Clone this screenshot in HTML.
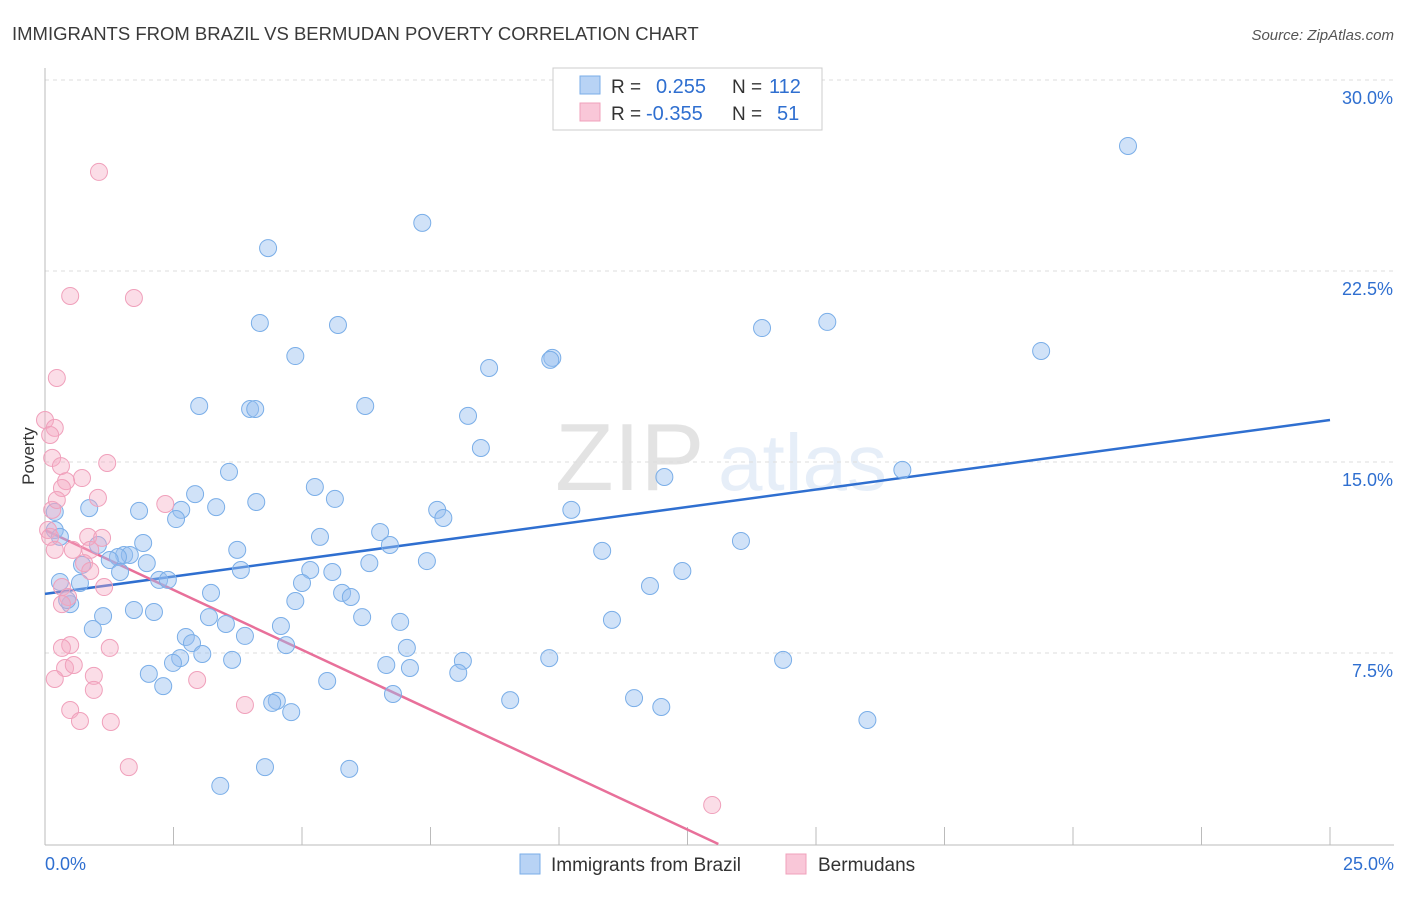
<!DOCTYPE html>
<html><head><meta charset="utf-8"><style>
body{margin:0;background:#fff;font-family:"Liberation Sans",sans-serif;}
svg text{font-family:"Liberation Sans",sans-serif;}
</style></head><body>
<svg id="chart" width="1406" height="892" xmlns="http://www.w3.org/2000/svg">
<text x="12" y="40" font-size="18.5" fill="#3a3a3a">IMMIGRANTS FROM BRAZIL VS BERMUDAN POVERTY CORRELATION CHART</text>
<text x="1394" y="40" font-size="15" fill="#555" font-style="italic" text-anchor="end">Source: ZipAtlas.com</text>
<g opacity="0.13">
<text x="555" y="490" font-size="96" font-family="Liberation Serif" fill="#333">ZIP</text>
<text x="718" y="490" font-size="80" fill="#4a7fd0">atlas</text>
</g>
<g id="grid"></g><g id="axes"></g><g id="lines"></g><g id="pts"></g>
<text x="34" y="456" font-size="17" fill="#333" text-anchor="middle" transform="rotate(-90 34 456)">Poverty</text>
<g>
<rect x="553" y="68" width="269" height="62" fill="#fff" stroke="#ccc"/>
<rect x="580" y="76" width="20" height="18" fill="#b8d3f5" stroke="#7aaee8"/>
<rect x="580" y="103" width="20" height="18" fill="#f9c7d8" stroke="#f0a0bb"/>
<text x="611" y="93" font-size="19" fill="#333">R = </text><text x="656" y="93" font-size="20" fill="#2f6fd0">0.255</text>
<text x="732" y="93" font-size="19" fill="#333">N = </text><text x="769" y="93" font-size="20" fill="#2f6fd0">112</text>
<text x="611" y="120" font-size="19" fill="#333">R = </text><text x="646" y="120" font-size="20" fill="#2f6fd0">-0.355</text>
<text x="732" y="120" font-size="19" fill="#333">N = </text><text x="777" y="120" font-size="20" fill="#2f6fd0">51</text>
</g>
<g>
<rect x="520" y="854" width="20" height="20" fill="#b8d3f5" stroke="#7aaee8"/>
<text x="551" y="871" font-size="19" fill="#333">Immigrants from Brazil</text>
<rect x="786" y="854" width="20" height="20" fill="#f9c7d8" stroke="#f0a0bb"/>
<text x="818" y="871" font-size="19" fill="#333">Bermudans</text>
</g>
</svg>
<script>
const xTicks=[0,2.5,5,7.5,10,12.5,15,17.5,20,22.5,25];
const yTicks=[7.5,15,22.5,30];
const yTickLabels=["7.5%","15.0%","22.5%","30.0%"];
const xEndLabels=["0.0%","25.0%"];
const blueX=[21.07,7.34,4.34,4.18,5.70,15.22,13.95,19.38,4.87,9.87,9.83,8.64,3.00,6.23,3.99,4.09,8.23,8.48,3.58,16.68,12.05,5.25,2.92,5.64,4.11,3.33,0.86,1.83,2.65,7.63,10.24,2.55,7.75,6.52,5.35,0.19,0.19,0.29,1.03,1.91,3.74,10.84,13.54,6.71,1.54,1.65,1.42,1.26,1.98,6.31,7.43,0.72,5.59,5.16,3.81,12.40,1.46,0.29,0.68,2.22,2.39,5.00,11.77,5.78,5.95,3.23,4.87,0.49,0.43,1.73,2.12,1.13,3.19,6.17,6.91,11.03,3.52,4.59,0.93,2.74,3.89,2.86,4.69,7.04,3.06,2.63,2.49,3.64,8.13,9.81,14.36,6.64,7.10,2.02,8.04,5.49,2.30,6.77,11.46,9.05,4.51,4.42,11.99,4.79,16.00,4.28,5.92,3.41];
const blueY=[27.41,24.39,23.40,20.46,20.38,20.50,20.26,19.36,19.16,19.09,19.01,18.69,17.20,17.20,17.08,17.08,16.81,15.55,14.61,14.69,14.41,14.02,13.74,13.55,13.43,13.23,13.19,13.08,13.12,13.12,13.12,12.76,12.80,12.25,12.06,13.04,12.33,12.06,11.74,11.82,11.55,11.51,11.90,11.74,11.35,11.35,11.27,11.15,11.03,11.03,11.11,10.96,10.68,10.76,10.76,10.72,10.68,10.29,10.25,10.37,10.37,10.25,10.13,9.86,9.70,9.86,9.54,9.42,9.58,9.19,9.11,8.95,8.91,8.91,8.72,8.80,8.64,8.56,8.44,8.13,8.17,7.89,7.81,7.70,7.46,7.30,7.11,7.23,7.19,7.30,7.23,7.03,6.91,6.68,6.72,6.40,6.20,5.89,5.73,5.65,5.62,5.54,5.38,5.18,4.87,3.02,2.95,2.28];
const pinkX=[1.05,0.49,1.73,0.23,0,0.19,0.10,0.14,0.31,1.21,0.72,0.41,0.33,1.03,2.34,0.14,0.06,0.10,0.84,1.11,0.19,0.54,0.88,0.76,0.88,0.33,1.15,0.45,0.33,0.49,0.33,1.26,0.39,0.56,0.95,0.19,0.95,2.96,0.49,0.68,1.28,3.89,1.63,12.98,0.23];
const pinkY=[26.39,21.52,21.44,18.30,16.65,16.34,16.06,15.16,14.84,14.96,14.37,14.25,13.98,13.59,13.35,13.12,12.33,12.06,12.06,12.02,11.55,11.55,11.55,11.03,10.72,10.09,10.09,9.70,9.42,7.81,7.70,7.70,6.91,7.03,6.60,6.48,6.05,6.44,5.26,4.83,4.79,5.46,3.02,1.53,13.51];
const blueTrendX=[0,25];const blueTrendY=[9.82,16.65];
const pinkTrendX=[0,13.10];const pinkTrendY=[12.33,0];
const NS="http://www.w3.org/2000/svg";
const sx=v=>45+v/25*1285;
const sy=v=>844-v/7.5*191;
function mk(tag,attrs,parent){const e=document.createElementNS(NS,tag);for(const k in attrs)e.setAttribute(k,attrs[k]);document.getElementById(parent).appendChild(e);return e;}
yTicks.forEach((t,i)=>{
 const g=mk('line',{x1:45,x2:1394,y1:sy(t),y2:sy(t),stroke:'#ddd','stroke-dasharray':'4,4'},'grid');
 
 
 const l=mk('text',{x:1393,y:sy(t)+24,'font-size':18,fill:'#2f6fd0','text-anchor':'end'},'axes');
 l.textContent=yTickLabels[i];
 
 
});
const ax=mk('line',{x1:45,x2:1394,y1:845,y2:845,stroke:'#bbb'},'axes');


const ay=mk('line',{x1:45,x2:45,y1:68,y2:845,stroke:'#bbb'},'axes');


xTicks.forEach(t=>{
 const k=mk('line',{x1:sx(t),x2:sx(t),y1:827,y2:845,stroke:'#bbb'},'axes');
 
 
});
const xl0=mk('text',{x:45,y:870,'font-size':18,fill:'#2f6fd0'},'axes');xl0.textContent=xEndLabels[0];


const xl1=mk('text',{x:1394,y:870,'font-size':18,fill:'#2f6fd0','text-anchor':'end'},'axes');xl1.textContent=xEndLabels[1];


blueX.forEach((v,i)=>{
 const c=mk('circle',{cx:sx(v),cy:sy(blueY[i]),r:8.5,fill:'rgba(150,190,240,0.45)',stroke:'#7aaee8','stroke-width':1},'pts');
 
 
});
pinkX.forEach((v,i)=>{
 const c=mk('circle',{cx:sx(v),cy:sy(pinkY[i]),r:8.5,fill:'rgba(245,170,195,0.4)',stroke:'#f0a0bb','stroke-width':1},'pts');
 
 
});
const bl=mk('line',{x1:sx(blueTrendX[0]),y1:sy(blueTrendY[0]),x2:sx(blueTrendX[1]),y2:sy(blueTrendY[1]),stroke:'#2f6fd0','stroke-width':2.5},'lines');


const pl=mk('line',{x1:sx(pinkTrendX[0]),y1:sy(pinkTrendY[0]),x2:sx(pinkTrendX[1]),y2:sy(pinkTrendY[1]),stroke:'#e8709a','stroke-width':2.5},'lines');


</script>
</body></html>
